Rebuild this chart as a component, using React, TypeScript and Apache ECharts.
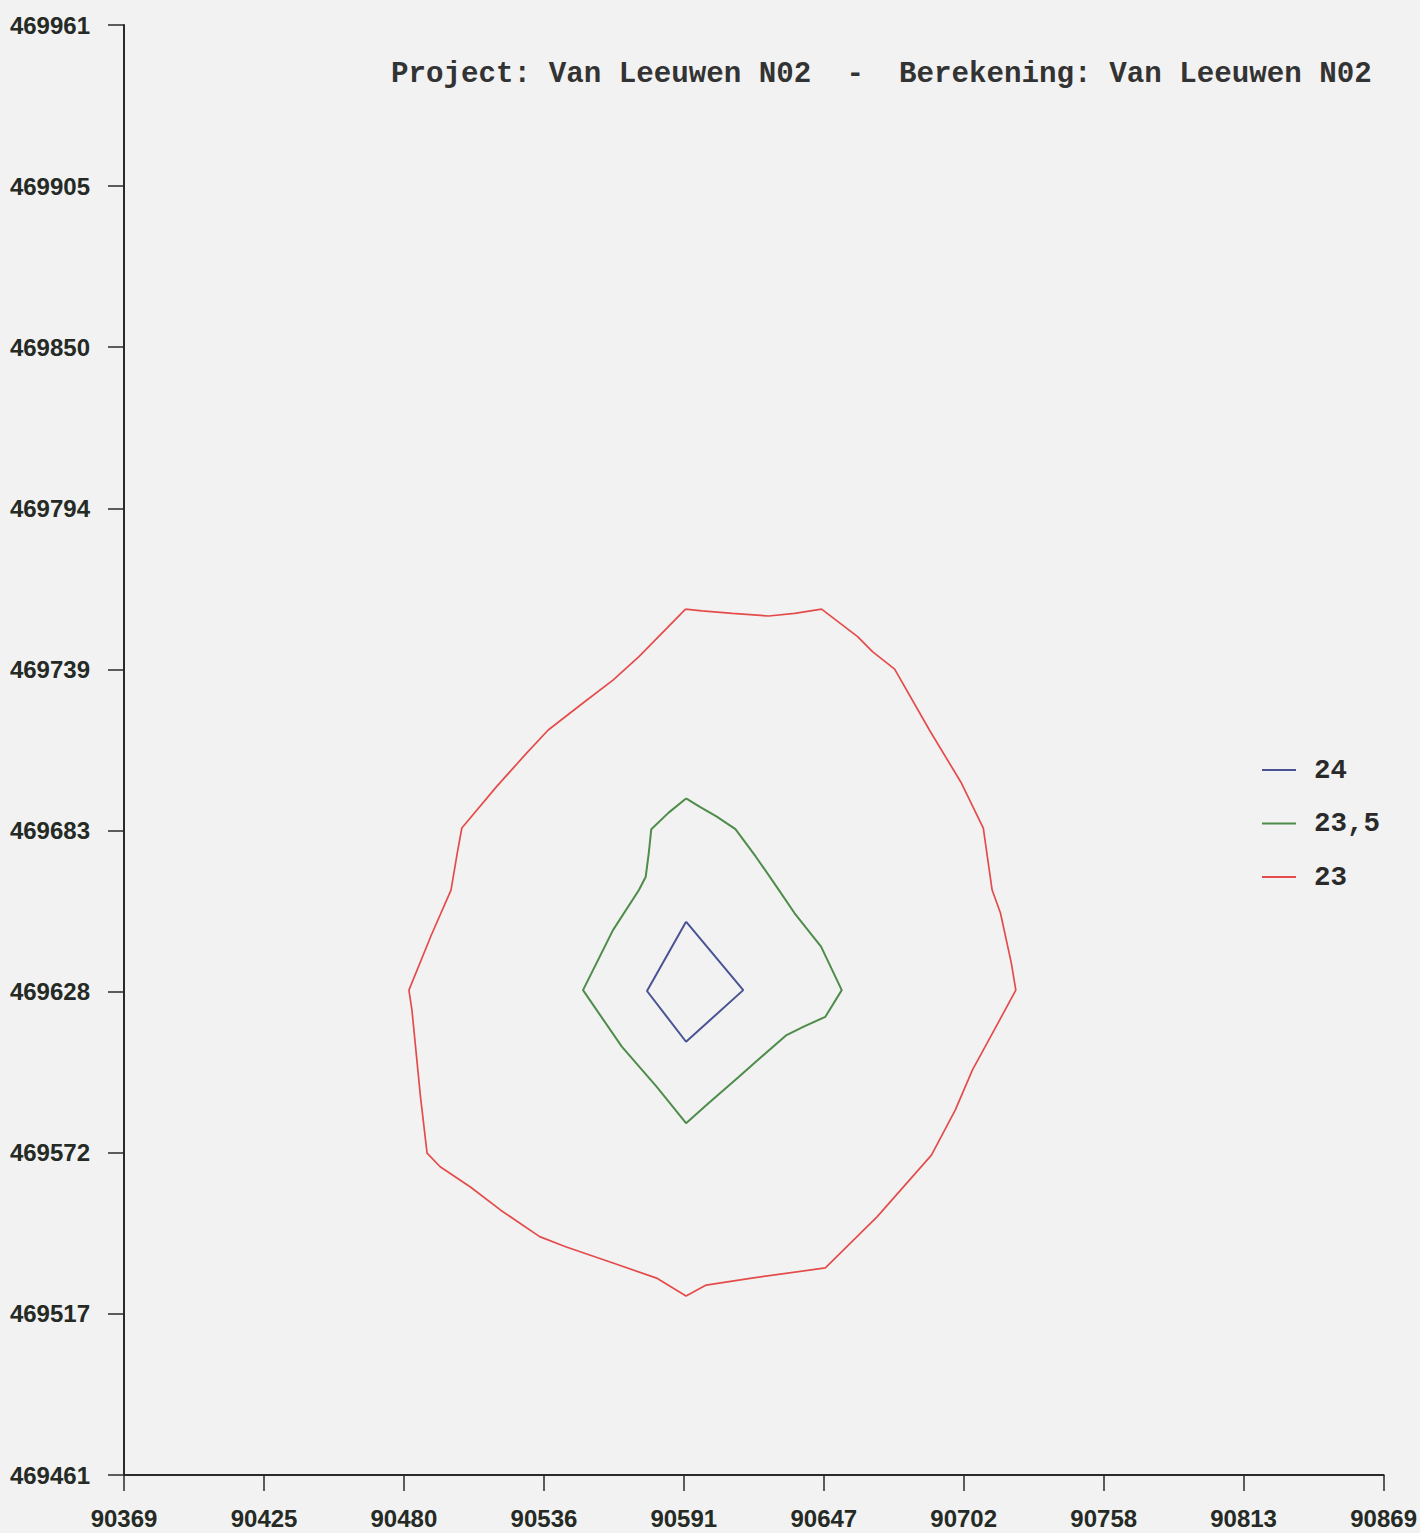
import React, { useEffect, useRef } from "react";
import * as echarts from "echarts";

// Axis extents and tick labels
const xMin = 90369;
const xMax = 90869;
const yMin = 469461;
const yMax = 469961;
const xTicks = [90369, 90424.6, 90480.1, 90535.7, 90591.2, 90646.8, 90702.3, 90757.9, 90813.4, 90869];
const yTicks = [469461, 469516.6, 469572.1, 469627.7, 469683.2, 469738.8, 469794.3, 469849.9, 469905.4, 469961];

const titleText = "Project: Van Leeuwen N02  -  Berekening: Van Leeuwen N02";
const seriesNames = ["24", "23,5", "23"];
const seriesColors = ["#4a5394", "#4e8c4a", "#e44c4c"];

// Contour 24
const contour24: number[][] = [
  [90592.1, 469651.8],
  [90614.8, 469628.2],
  [90592.1, 469610.4],
  [90576.6, 469627.9],
  [90592.1, 469651.8],
];

// Contour 23,5
const contour235: number[][] = [
  [90592.1, 469694.3],
  [90597.6, 469691.4],
  [90604.3, 469688.0],
  [90611.7, 469683.7],
  [90619.8, 469674.2],
  [90628.5, 469663.3],
  [90635.2, 469654.7],
  [90645.7, 469643.2],
  [90653.9, 469628.2],
  [90647.4, 469619.0],
  [90638.8, 469615.6],
  [90632.0, 469612.7],
  [90619.8, 469603.5],
  [90613.1, 469598.3],
  [90601.0, 469589.2],
  [90592.1, 469582.3],
  [90580.4, 469594.9],
  [90566.6, 469608.7],
  [90551.2, 469628.2],
  [90563.1, 469648.9],
  [90573.4, 469662.7],
  [90576.1, 469667.3],
  [90577.3, 469675.4],
  [90578.3, 469683.7],
  [90585.2, 469689.4],
  [90592.1, 469694.3],
];

// Contour 23
const contour23: number[][] = [
  [90591.9, 469759.6],
  [90598.4, 469759.0],
  [90610.5, 469758.1],
  [90624.9, 469757.2],
  [90635.2, 469758.1],
  [90645.9, 469759.6],
  [90660.2, 469750.1],
  [90666.1, 469744.9],
  [90674.9, 469738.9],
  [90688.7, 469717.9],
  [90701.4, 469699.6],
  [90710.1, 469684.1],
  [90711.7, 469674.2],
  [90713.6, 469662.7],
  [90716.9, 469654.8],
  [90721.2, 469637.6],
  [90723.0, 469628.2],
  [90714.4, 469614.4],
  [90705.8, 469600.7],
  [90699.0, 469586.9],
  [90689.5, 469571.3],
  [90668.0, 469550.1],
  [90647.4, 469532.4],
  [90618.2, 469528.9],
  [90600.1, 469526.5],
  [90592.1, 469522.7],
  [90580.4, 469528.9],
  [90563.1, 469534.1],
  [90544.3, 469539.7],
  [90534.0, 469543.2],
  [90518.4, 469552.4],
  [90506.5, 469560.3],
  [90494.5, 469567.3],
  [90489.3, 469572.0],
  [90486.7, 469591.3],
  [90483.3, 469621.3],
  [90482.1, 469628.2],
  [90491.0, 469647.2],
  [90498.8, 469662.7],
  [90501.3, 469675.5],
  [90503.1, 469684.1],
  [90516.8, 469698.3],
  [90528.9, 469710.0],
  [90537.4, 469717.9],
  [90551.2, 469727.2],
  [90563.1, 469735.1],
  [90573.4, 469743.2],
  [90591.9, 469759.6],
];

const contours = [contour24, contour235, contour23];
const lineWidths = [2, 2, 1.7];

const axisColor = "#2a2a2a";
const labelFont = "'Liberation Sans', Arial, sans-serif";
const monoFont = "'Liberation Mono', 'Courier New', monospace";

export default function App() {
  const ref = useRef<HTMLDivElement>(null);
  useEffect(() => {
    if (!ref.current) return;
    const chart = echarts.init(ref.current, null, { renderer: "svg" });
    chart.setOption({
      animation: false,
      backgroundColor: "#f2f2f2",
      title: {
        text: titleText,
        left: 386,
        top: 55,
        textStyle: {
          fontFamily: monoFont,
          fontWeight: "bold",
          fontSize: 29.2,
          color: "#333333",
        },
      },
      legend: {
        orient: "vertical",
        left: 1262,
        top: 756,
        padding: 0,
        itemWidth: 34,
        itemHeight: 2,
        itemGap: 25.5,
        icon: "path://M0,0L34,0L34,2L0,2Z",
        data: seriesNames,
        textStyle: {
          fontFamily: monoFont,
          fontWeight: "bold",
          fontSize: 27.5,
          lineHeight: 28,
          color: "#2a2a2a",
          padding: [0, 0, 0, 13],
        },
      },
      grid: { left: 124, right: 34, top: 25, bottom: 58 },
      xAxis: {
        type: "value",
        min: xMin,
        max: xMax,
        splitLine: { show: false },
        axisLine: { show: true, onZero: false, lineStyle: { color: axisColor, width: 2 } },
        axisTick: {
          show: true,
          length: 16,
          customValues: xTicks,
          lineStyle: { color: axisColor, width: 1.5 },
        },
        axisLabel: {
          customValues: xTicks,
          margin: 31,
          formatter: (v: number) => String(Math.round(v)),
          fontFamily: labelFont,
          fontWeight: "bold",
          fontSize: 24,
          color: "#252a25",
        },
      },
      yAxis: {
        type: "value",
        min: yMin,
        max: yMax,
        splitLine: { show: false },
        axisLine: { show: true, onZero: false, lineStyle: { color: axisColor, width: 2 } },
        axisTick: {
          show: true,
          length: 16,
          customValues: yTicks,
          lineStyle: { color: axisColor, width: 1.5 },
        },
        axisLabel: {
          customValues: yTicks,
          margin: 34,
          formatter: (v: number) => String(Math.round(v)),
          fontFamily: labelFont,
          fontWeight: "bold",
          fontSize: 24,
          color: "#252a25",
        },
      },
      series: contours.map((data, i) => ({
        name: seriesNames[i],
        type: "line",
        data,
        symbol: "none",
        showSymbol: false,
        color: seriesColors[i],
        lineStyle: { color: seriesColors[i], width: lineWidths[i] },
        itemStyle: { color: seriesColors[i] },
      })),
    });
    return () => chart.dispose();
  }, []);
  return (
    <div
      ref={ref}
      style={{ position: "absolute", left: 0, top: 0, width: 1420, height: 1533 }}
    />
  );
}
